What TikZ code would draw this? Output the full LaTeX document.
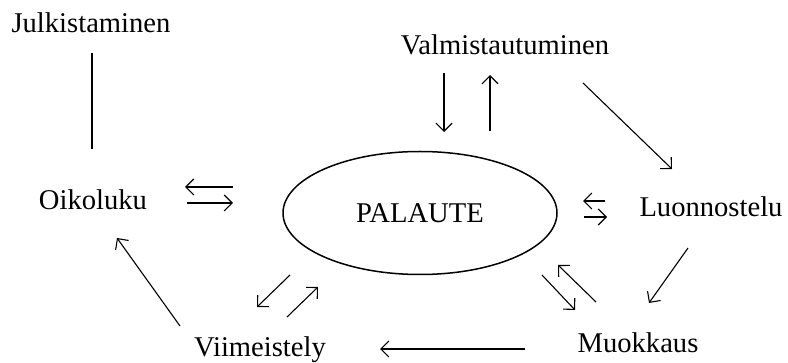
\documentclass[tikz,border=0pt]{standalone}
\usepackage{fontspec}
\setmainfont{Liberation Serif}
\usetikzlibrary{shapes,arrows.meta}
\tikzstyle{word} = [inner sep=0pt, font=\fontsize{14.3}{17}\selectfont]
\tikzstyle{hub} = [ellipse, draw=black, line width=0.75pt, minimum width=137pt, minimum height=61.5pt, font=\fontsize{14.3}{17}\selectfont]
\tikzstyle{arrow} = [-{Straight Barb[length=4pt,width=8pt]}, line width=0.55pt]

\begin{document}
\begin{tikzpicture}[x=0.5pt,y=-0.5pt]
		\useasboundingbox (0,0) rectangle (788,363);
		\node (jul) [word] at (91,23) {Julkistaminen};
		\node (oik) [word] at (93,200) {Oikoluku};
		\node (val) [word] at (505,45) {Valmistautuminen};
		\node (luo) [word] at (711,207) {Luonnostelu};
		\node (muo) [word] at (638,343) {Muokkaus};
		\node (vii) [word] at (260,350) {Viimeistely};
		\node (pal) [hub] at (420,213) {PALAUTE};
		
		\draw [line width=0.55pt] ([shift={(1,30)}]jul.center) -- ([shift={(-1,-51)}]oik.center);
		
		\draw [arrow] ([shift={(-187,-26)}]pal.center) -- ([shift={(92,-13)}]oik.center);
		\draw [arrow] ([shift={(94,3)}]oik.center) -- ([shift={(-187,-10)}]pal.center);
		
		\draw [arrow] ([shift={(-61,28)}]val.center) -- ([shift={(24,-81)}]pal.center);
		\draw [arrow] ([shift={(70,-82)}]pal.center) -- ([shift={(-15,30)}]val.center);
		\draw [arrow] ([shift={(78,38)}]val.center) -- ([shift={(-39,-38)}]luo.center);
		
		\draw [arrow] ([shift={(-106,-6)}]luo.center) -- ([shift={(163,-12)}]pal.center);
		\draw [arrow] ([shift={(164,4)}]pal.center) -- ([shift={(-104,10)}]luo.center);
		\draw [arrow] ([shift={(-23,41)}]luo.center) -- ([shift={(11,-40)}]muo.center);
		
		\draw [arrow] ([shift={(122,62)}]pal.center) -- ([shift={(-63,-33)}]muo.center);
		\draw [arrow] ([shift={(-42,-41)}]muo.center) -- ([shift={(138,52)}]pal.center);
		\draw [arrow] ([shift={(-113,6)}]muo.center) -- ([shift={(120,-1)}]vii.center);
		
		\draw [arrow] ([shift={(-130,62)}]pal.center) -- ([shift={(-3,-43)}]vii.center);
		\draw [arrow] ([shift={(27,-33)}]vii.center) -- ([shift={(-102,74)}]pal.center);
		\draw [arrow] ([shift={(-80,-24)}]vii.center) -- ([shift={(24,38)}]oik.center);
	
	\end{tikzpicture}
\end{document}
